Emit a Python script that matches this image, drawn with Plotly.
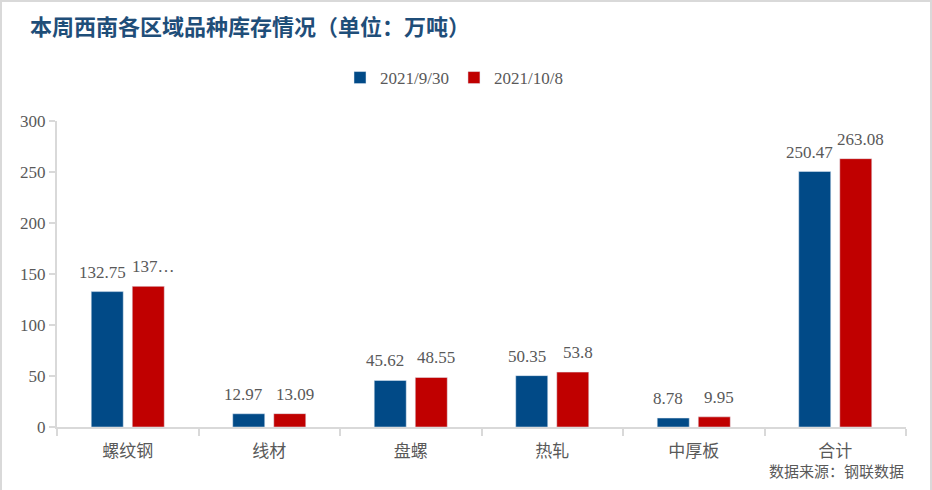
import plotly.graph_objects as go

categories = ["螺纹钢", "线材", "盘螺", "热轧", "中厚板", "合计"]
series_names = ["2021/9/30", "2021/10/8"]
vals_0930 = [132.75, 12.97, 45.62, 50.35, 8.78, 250.47]
vals_1008 = [137.9, 13.09, 48.55, 53.8, 9.95, 263.08]
labels_0930 = ["132.75", "12.97", "45.62", "50.35", "8.78", "250.47"]
labels_1008 = ["137…", "13.09", "48.55", "53.8", "9.95", "263.08"]
y_ticks = [0, 50, 100, 150, 200, 250, 300]

BLUE = "#014A87"
RED = "#C00000"
GREY = "#595959"
FONT = "Liberation Serif, Noto Sans CJK SC, serif"

W, H = 932, 490
L, R, T, B = 57, 26, 121, 63
BARGAP, GROUPGAP = 0.42, 0.22

fig = go.Figure()
for name, vals, color in [
    (series_names[0], vals_0930, BLUE),
    (series_names[1], vals_1008, RED),
]:
    fig.add_trace(go.Bar(x=categories, y=vals, name=name, marker_color=color,
                         hoverinfo="x+y"))

# data labels: centred on each bar, nudged slightly outward like the source chart
pw, ph = W - L - R, H - T - B
slot = pw / len(categories) * (1 - BARGAP) / 2
for sign, vals, labels in [(-1, vals_0930, labels_0930), (1, vals_1008, labels_1008)]:
    for cat, v, lab in zip(categories, vals, labels):
        fig.add_annotation(
            x=cat, y=v, text=lab, showarrow=False,
            xanchor="center", yanchor="bottom",
            xshift=sign * (slot / 2 + 5), yshift=8,
            font=dict(size=17, color=GREY, family=FONT),
        )

fig.update_layout(
    width=W, height=H,
    margin=dict(l=L, r=R, t=T, b=B),
    paper_bgcolor="white", plot_bgcolor="white",
    barmode="group", bargap=BARGAP, bargroupgap=GROUPGAP,
    font=dict(family=FONT, color=GREY),
    title=dict(
        text="<b>本周西南各区域品种库存情况（单位：万吨）</b>",
        x=30 / W, xref="container", xanchor="left",
        y=1 - 27 / H, yref="container", yanchor="middle",
        font=dict(size=22, color="#1F4E79", family="Noto Sans CJK SC"),
    ),
    legend=dict(
        orientation="h", x=(454 - L) / pw, xanchor="center", y=1 + 43 / ph, yanchor="middle",
        font=dict(size=17, color=GREY, family=FONT),
        itemwidth=30, tracegroupgap=0,
    ),
    showlegend=True,
)

fig.update_yaxes(
    range=[0, 300], tickvals=y_ticks, showgrid=False, zeroline=False,
    showline=True, linecolor="#D9D9D9", linewidth=2,
    ticks="outside", ticklen=6, tickcolor="#D9D9D9", tickwidth=2,
    tickfont=dict(size=17, color=GREY, family=FONT),
)
fig.update_xaxes(
    showline=True, linecolor="#D9D9D9", linewidth=2,
    ticks="outside", tickson="boundaries", ticklen=7,
    tickcolor="#D9D9D9", tickwidth=2, ticklabelstandoff=8,
    tickfont=dict(size=17, color=GREY, family="Noto Sans CJK SC"),
)

fig.add_annotation(
    text="数据来源：钢联数据", xref="paper", yref="paper",
    x=1, y=(427 - 470) / ph, xanchor="right", yanchor="middle",
    showarrow=False, font=dict(size=15, color=GREY, family="Noto Sans CJK SC"),
)

# light grey frame around the whole chart
fig.add_shape(
    type="rect", xref="paper", yref="paper",
    x0=(1 - L) / pw, x1=(W - 1 - L) / pw,
    y0=(B - (H - 1)) / ph, y1=(H - 1 - B) / ph,
    line=dict(color="#D9D9D9", width=2), layer="below",
)

fig.write_html("out.html", config={"displayModeBar": False},
               post_script="document.body.style.margin='0';")
